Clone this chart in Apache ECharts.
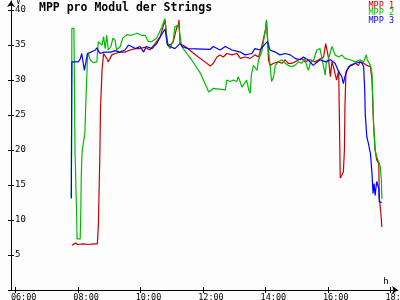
<!DOCTYPE html>
<html>
<head>
<meta charset="utf-8">
<script src="https://cdn.jsdelivr.net/npm/echarts@6/dist/echarts.min.js"></script>
<style>
html,body{margin:0;padding:0;background:#fdfdfd;}
#c{width:400px;height:300px;}
</style>
</head>
<body>
<div id="c"></div>
<script>
const titleText = 'MPP pro Modul der Strings';
const seriesNames = ['MPP 1', 'MPP 2', 'MPP 3'];
const seriesColors = ['#c40000', '#00bc00', '#0000ff'];
const xTickHours = [6, 8, 10, 12, 14, 16, 18];
const yTickValues = [0, 5, 10, 15, 20, 25, 30, 35, 40];
const yLabelValues = [5, 10, 15, 20, 25, 30, 35, 40];

const mpp1Times = ['07:48','07:50','07:55','08:00','08:10','08:20','08:30','08:37','08:39','08:40','08:42','08:43','08:46','08:49','08:55','08:58','09:05','09:11','09:21','09:30','09:40','09:50','09:59','10:09','10:18','10:28','10:38','10:47','10:52','10:57','11:03','11:10','11:13','11:14','11:16','11:19','11:26','11:39','11:51','12:04','12:14','12:20','12:27','12:33','12:39','12:46','12:56','13:05','13:12','13:21','13:31','13:40','13:47','13:53','14:00','14:02','14:04','14:06','14:09','14:16','14:25','14:32','14:38','14:44','14:51','14:57','15:04','15:10','15:16','15:26','15:36','15:45','15:52','15:56','16:01','16:05','16:08','16:11','16:14','16:17','16:21','16:22','16:24','16:27','16:30','16:32','16:33','16:35','16:40','16:46','16:53','16:59','17:02','17:09','17:15','17:22','17:25','17:28','17:31','17:34','17:38','17:39','17:42','17:44'];
const mpp1Values = [6.4,6.5,6.7,6.5,6.6,6.5,6.6,6.6,9.3,12.9,20.0,25.7,31.4,33.8,33.1,32.6,33.6,33.8,34.0,34.0,34.3,34.5,34.5,34.7,34.3,35.2,36.2,38.6,35.2,35.0,35.5,37.6,37.9,38.6,35.2,35.0,34.8,34.0,33.3,32.6,32.0,32.4,33.3,33.6,33.3,33.8,33.6,33.8,33.1,33.3,33.1,33.6,33.3,34.8,37.1,38.3,36.2,32.9,32.1,32.4,32.6,32.4,32.9,32.4,32.4,32.6,32.9,33.1,32.6,32.9,32.6,33.0,33.3,35.2,33.3,30.5,32.6,31.9,30.9,30.0,31.4,26.2,16.0,16.4,16.9,20.0,26.2,31.2,31.9,32.1,32.4,32.1,32.6,32.4,32.1,31.9,30.0,23.8,20.0,18.6,18.1,13.3,11.0,9.0];

const mpp2Times = ['07:47','07:48','07:52','07:54','07:57','07:58','08:04','08:05','08:06','08:07','08:08','08:13','08:15','08:18','08:20','08:23','08:29','08:36','08:39','08:46','08:49','08:52','08:55','08:58','09:03','09:07','09:11','09:14','09:21','09:26','09:34','09:43','09:53','10:02','10:09','10:15','10:22','10:31','10:41','10:47','10:50','10:51','10:57','11:03','11:06','11:13','11:16','11:19','11:22','11:39','11:55','12:11','12:20','12:43','12:46','12:52','12:59','13:05','13:08','13:15','13:24','13:28','13:31','13:33','13:37','13:44','13:47','13:53','14:00','14:02','14:04','14:08','14:12','14:16','14:19','14:25','14:32','14:38','14:44','14:51','14:57','15:04','15:10','15:16','15:20','15:23','15:26','15:33','15:39','15:45','15:52','15:55','15:57','16:01','16:08','16:11','16:14','16:21','16:27','16:33','16:43','16:53','17:02','17:09','17:14','17:16','17:22','17:25','17:28','17:31','17:36','17:39','17:41','17:43','17:44'];
const mpp2Values = [13.1,37.4,37.4,20.0,11.4,7.3,7.3,10.3,15.7,18.6,20.0,22.4,27.1,33.3,33.8,32.9,32.5,32.6,35.5,35.0,36.2,34.5,36.4,34.3,34.8,36.0,35.7,34.3,34.8,36.0,36.5,36.4,36.7,36.4,36.4,35.5,35.5,36.0,37.6,38.8,39.0,35.2,34.5,35.7,37.6,37.9,37.9,34.8,34.5,32.8,31.0,28.3,28.8,28.6,30.0,29.8,30.0,29.8,30.5,29.0,30.0,28.6,28.1,30.7,32.1,31.4,32.9,34.0,37.1,38.6,36.2,32.9,29.8,30.5,32.1,32.6,32.9,32.4,32.1,31.9,32.1,32.6,32.4,33.1,31.9,31.4,32.4,32.9,34.3,34.5,31.9,30.7,32.4,32.9,34.8,35.0,33.6,33.3,33.6,33.1,32.9,32.6,32.9,32.6,33.6,32.9,32.1,31.0,23.8,20.0,18.6,18.1,17.6,15.7,13.0];

const mpp3Times = ['07:47','07:48','07:50','08:00','08:04','08:07','08:12','08:18','08:25','08:33','08:36','08:42','08:50','09:03','09:11','09:20','09:30','09:37','09:40','09:50','09:59','10:06','10:11','10:22','10:31','10:38','10:47','10:52','10:57','11:06','11:16','11:22','11:32','12:14','12:20','12:33','12:43','12:56','13:12','13:21','13:34','13:40','13:50','14:00','14:04','14:09','14:19','14:28','14:38','14:48','14:57','15:07','15:13','15:22','15:32','15:45','15:55','16:05','16:14','16:21','16:27','16:30','16:33','16:37','16:43','16:53','17:02','17:06','17:09','17:11','17:12','17:15','17:18','17:22','17:25','17:27','17:29','17:31','17:34','17:38','17:39','17:44'];
const mpp3Values = [13.1,32.6,32.6,32.6,33.0,33.8,31.4,33.8,34.0,34.3,34.6,33.8,34.0,34.0,34.2,34.0,34.3,35.0,34.8,34.5,34.8,34.0,34.8,34.5,35.2,36.2,37.3,35.0,34.8,34.5,35.2,34.7,34.5,34.4,34.8,34.3,34.8,34.3,34.0,33.6,33.8,34.5,34.3,35.2,35.5,34.3,34.0,33.6,33.8,33.6,33.1,32.9,33.3,32.9,32.1,32.9,32.6,32.9,32.4,31.2,30.5,29.5,30.5,31.4,32.1,32.4,32.6,32.4,31.9,28.6,25.2,21.9,21.0,19.5,16.7,13.8,15.2,13.5,15.5,14.5,12.6,12.5];

function toHour(t) { const p = t.split(':'); return +p[0] + (+p[1]) / 60; }
function pairs(times, values) { return times.map((t, i) => [toHour(t), values[i]]); }
function fmtHour(h) { return (h < 10 ? '0' : '') + h + ':00'; }

const allTimes = [mpp1Times, mpp2Times, mpp3Times];
const allValues = [mpp1Values, mpp2Values, mpp3Values];

const FONT = 'DejaVu Sans Mono';

const chart = echarts.init(document.getElementById('c'), null, { renderer: 'canvas' });
chart.setOption({
  animation: false,
  backgroundColor: '#fdfdfd',
  title: {
    text: titleText, left: 39, top: 2, padding: 0,
    textStyle: { fontFamily: FONT, fontSize: 11.5, fontWeight: 'bold', color: '#000' }
  },
  legend: {
    orient: 'vertical', right: 1, top: 1, padding: 0, itemGap: -1.3,
    itemWidth: 0, itemHeight: 0, align: 'right', selectedMode: false,
    textStyle: { fontFamily: FONT, fontSize: 8.5, lineHeight: 7.6, padding: 0 },
    data: seriesNames.map((n, i) => ({ name: n, icon: 'rect', itemStyle: { opacity: 0 }, textStyle: { color: seriesColors[i] } }))
  },
  grid: { left: 11, right: 2, top: 1, bottom: 10, containLabel: false, outerBoundsMode: 'none' },
  xAxis: [{
    type: 'value', min: 5.85, max: 18.25, position: 'bottom',
    name: 'h', nameLocation: 'end', nameGap: -12,
    nameTextStyle: { fontFamily: FONT, fontSize: 9, color: '#000', align: 'center', verticalAlign: 'bottom', padding: [0, 0, 4, 0] },
    axisLine: { show: true, onZero: false, lineStyle: { color: '#000', width: 1 }, symbol: ['none', 'arrow'], symbolSize: [6, 6] },
    axisTick: { show: true, inside: false, length: 3, customValues: xTickHours, lineStyle: { color: '#000' } },
    axisLabel: {
      show: true, margin: 3, customValues: xTickHours, fontFamily: FONT, fontSize: 8.5, color: '#000',
      hideOverlap: false, showMinLabel: true, showMaxLabel: true,
      formatter: v => '{a|' + fmtHour(v) + '}',
      rich: { a: { fontFamily: FONT, fontSize: 8.5, color: '#000', padding: [0, 0, 0, 16] } }
    },
    splitLine: { show: false }
  }, {
    type: 'value', min: 5.85, max: 18.25, position: 'bottom',
    axisLine: { show: false },
    axisTick: { show: true, inside: true, length: 3, customValues: xTickHours, lineStyle: { color: '#000' } },
    axisLabel: { show: false },
    splitLine: { show: false }
  }],
  yAxis: [{
    type: 'value', min: 0, max: 41.3, position: 'left',
    name: 'V', nameLocation: 'end', nameGap: -4,
    nameTextStyle: { fontFamily: FONT, fontSize: 8, color: '#000', align: 'left', verticalAlign: 'middle', padding: [0, 0, 0, 5] },
    axisLine: { show: true, onZero: false, lineStyle: { color: '#000', width: 1 }, symbol: ['none', 'arrow'], symbolSize: [6, 6] },
    axisTick: { show: true, inside: false, length: 3, customValues: yTickValues, lineStyle: { color: '#000' } },
    axisLabel: { show: true, inside: true, margin: 4, customValues: yLabelValues, fontFamily: FONT, fontSize: 9, color: '#000' },
    splitLine: { show: false }
  }, {
    type: 'value', min: 0, max: 41.3, position: 'left',
    axisLine: { show: false },
    axisTick: { show: true, inside: true, length: 3, customValues: yTickValues, lineStyle: { color: '#000' } },
    axisLabel: { show: false },
    splitLine: { show: false }
  }],
  series: seriesNames.map((n, i) => ({
    name: n, type: 'line', xAxisIndex: 0, yAxisIndex: 0,
    data: pairs(allTimes[i], allValues[i]),
    showSymbol: false, symbol: 'none', z: 2 + i,
    color: seriesColors[i],
    lineStyle: { color: seriesColors[i], width: 1.2 }
  }))
});
</script>
</body>
</html>
